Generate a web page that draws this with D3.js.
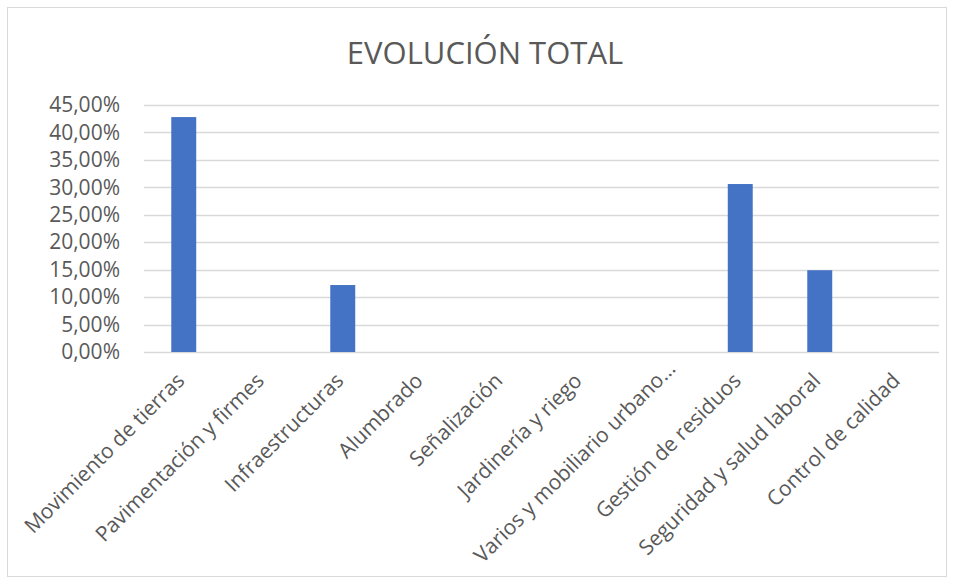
<!DOCTYPE html>
<html>
<head>
<meta charset="utf-8">
<script src="https://cdn.jsdelivr.net/npm/d3@7"></script>
<style>
  body { margin: 0; background: #fff; }
  text { font-family: "Open Sans", sans-serif; fill: #595959; }
</style>
</head>
<body>
<div id="chart"></div>
<script>
const svgWidth = 954;
const svgHeight = 584;

const categories = [
    "Movimiento de tierras",
    "Pavimentación y firmes",
    "Infraestructuras",
    "Alumbrado",
    "Señalización",
    "Jardinería y riego",
    "Varios y mobiliario urbano…",
    "Gestión de residuos",
    "Seguridad y salud laboral",
    "Control de calidad"
];
const values = [0.428, 0, 0.122, 0, 0, 0, 0, 0.306, 0.149, 0];
const yTicks = [0, 0.05, 0.10, 0.15, 0.20, 0.25, 0.30, 0.35, 0.40, 0.45];
const title = "EVOLUCIÓN TOTAL";

const plot = { left: 144, right: 939, top: 105, bottom: 352 };

const locale = d3.formatLocale({ decimal: ",", thousands: ".", grouping: [3], currency: ["", "€"] });
const pct = locale.format(".2%");

const svg = d3.select("#chart").append("svg")
    .attr("width", svgWidth)
    .attr("height", svgHeight);

// chart frame
svg.append("rect")
    .attr("x", 7.5).attr("y", 7.5)
    .attr("width", 939).attr("height", 569)
    .attr("fill", "#fff")
    .attr("stroke", "#d9d9d9");

const x = d3.scaleBand()
    .domain(categories)
    .range([plot.left, plot.right])
    .paddingInner(0.686)
    .paddingOuter(0.343);

const y = d3.scaleLinear()
    .domain([0, 0.45])
    .range([plot.bottom, plot.top]);

// gridlines
svg.append("g")
    .selectAll("line")
    .data(yTicks)
    .join("line")
    .attr("x1", plot.left).attr("x2", plot.right)
    .attr("y1", d => Math.round(y(d)) + 0.5)
    .attr("y2", d => Math.round(y(d)) + 0.5)
    .attr("stroke", "#d9d9d9")
    .attr("stroke-width", 1.3);

// y axis labels
const axisY = svg.append("g")
    .attr("transform", `translate(${plot.left - 24}, 0)`)
    .call(d3.axisLeft(y).tickValues(yTicks).tickFormat(pct).tickSize(0).tickPadding(0));
axisY.select(".domain").remove();
axisY.selectAll("text")
    .attr("font-size", 21)
    .attr("font-family", "Open Sans, sans-serif")
    .attr("fill", "#595959");

// bars
svg.append("g")
    .selectAll("rect")
    .data(values)
    .join("rect")
    .attr("x", (d, i) => x(categories[i]))
    .attr("y", d => y(d))
    .attr("width", x.bandwidth())
    .attr("height", d => y(0) - y(d))
    .attr("fill", "#4472c4");

// x axis labels (truncated one sits a bit higher, like excel does)
const axisX = svg.append("g")
    .attr("transform", `translate(0, ${plot.bottom})`)
    .call(d3.axisBottom(x).tickSize(0).tickPadding(0));
axisX.select(".domain").remove();
axisX.selectAll("text")
    .attr("font-size", 21)
    .attr("font-family", "Open Sans, sans-serif")
    .attr("fill", "#595959")
    .attr("text-anchor", "end")
    .attr("dy", "0")
    .attr("y", 0)
    .attr("transform", d => d.endsWith("…")
        ? "translate(16, 18) rotate(-45)"
        : "translate(2, 30) rotate(-45)");

// title
svg.append("text")
    .attr("x", 485)
    .attr("y", 64)
    .attr("text-anchor", "middle")
    .attr("font-size", 31)
    .text(title);
</script>
</body>
</html>
